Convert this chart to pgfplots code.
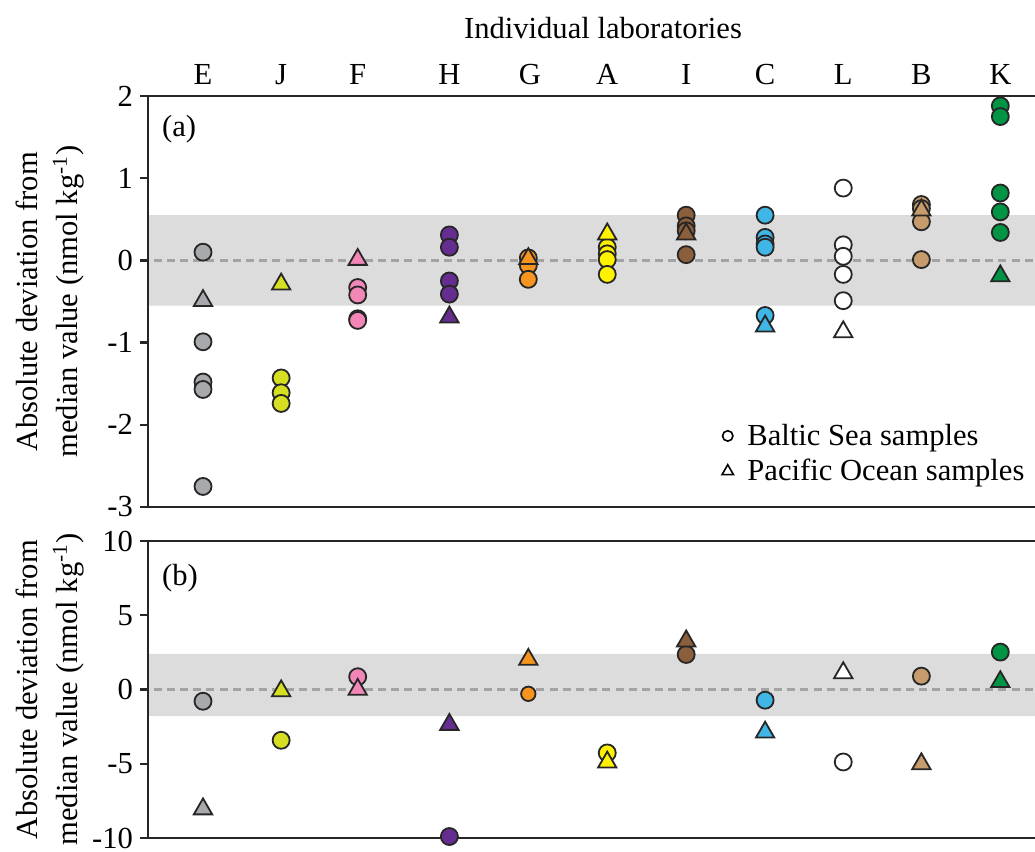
\documentclass[border=0pt]{standalone}
\usepackage{pgfplots}
\pgfplotsset{compat=1.18}
\usepackage{fontspec}
\setmainfont{Liberation Serif}
\definecolor{cE}{HTML}{A7A9AC}
\definecolor{cJ}{HTML}{D7DF23}
\definecolor{cF}{HTML}{F287B7}
\definecolor{cH}{HTML}{662D91}
\definecolor{cG}{HTML}{F7941D}
\definecolor{cA}{HTML}{FFF200}
\definecolor{cI}{HTML}{8B5E3C}
\definecolor{cC}{HTML}{3FB6E6}
\definecolor{cL}{HTML}{FFFFFF}
\definecolor{cB}{HTML}{C69C6D}
\definecolor{cK}{HTML}{009444}
\definecolor{bandgray}{HTML}{DCDCDD}
\definecolor{dashgray}{HTML}{A3A3A3}
\newcommand{\fs}{\fontsize{15.3}{20}\selectfont}
\pgfplotsset{
  cm/.style={only marks, mark=*, mark size=4.25pt, forget plot,
    mark options={fill=#1, draw=black!85, line width=0.9pt}},
  tm/.style={only marks, mark=triangle*, mark size=5.3pt, forget plot,
    mark options={fill=#1, draw=black!85, line width=0.9pt}},
  common/.style={
    scale only axis, width=444.5pt, xmin=-0.69, xmax=10.46,
    clip=false, axis line style={line width=1.2pt, black!85},
    tick style={line width=1.2pt, black!85},
    ytick align=outside, ytick pos=left, major tick length=4pt,
    ticklabel style={font=\fs},
    xtick={0,0.98,1.94,3.09,4.1,5.07,6.06,7.05,8.03,9.01,10},
    x tick style={draw=none},
    every axis y label/.style={at={(axis description cs:-0.1105,0.5)}, rotate=90, anchor=center, align=center, font=\fs},
    ylabel={Absolute deviation from\\median value (nmol kg\textsuperscript{-1})},
  },
}
\begin{document}
\begin{tikzpicture}
\useasboundingbox (0,-426pt) rectangle (517.5pt,0pt);
\node[font=\fs] at (301.5pt,-14pt) {Individual laboratories};
% ---------- panel (a)
\begin{axis}[common, at={(74pt,-253.5pt)}, anchor=south west, height=205.5pt,
  ymin=-3, ymax=2, ytick={-3,-2,-1,0,1,2}, yticklabels={-3,-2,-1,0,1,2},
  xticklabel pos=upper, xticklabels={E,J,F,H,G,A,I,C,L,B,K},
  xticklabel style={yshift=2pt},
  legend style={draw=none, fill=none, at={(axis description cs:0.643,0.218)}, anchor=north west, font=\fs, row sep=1.5pt, inner sep=1pt},
  legend cell align=left]
\addplot[fill=bandgray, draw=none, forget plot] coordinates {(-0.675,-0.55) (10.46,-0.55) (10.46,0.55) (-0.675,0.55)} \closedcycle;
\addplot[dashgray, line width=1.5pt, dash pattern=on 4pt off 2.6pt, forget plot] coordinates {(-0.62,0) (10.46,0)};
\addlegendimage{only marks, mark=o, mark size=2.6pt, black, line width=0.8pt}
\addlegendentry{\hspace{5pt}Baltic Sea samples}
\addlegendimage{only marks, mark=triangle, mark size=3.3pt, black, line width=0.8pt}
\addlegendentry{\hspace{5pt}Pacific Ocean samples}
% E
\addplot[cm=cE] coordinates {(0,0.10) (0,-0.99) (0,-1.48) (0,-1.57) (0,-2.75)};
\addplot[tm=cE] coordinates {(0,-0.49)};
% J
\addplot[cm=cJ] coordinates {(0.98,-1.43) (0.98,-1.61) (0.98,-1.74)};
\addplot[tm=cJ] coordinates {(0.98,-0.29)};
% F
\addplot[cm=cF] coordinates {(1.94,-0.33) (1.94,-0.42) (1.94,-0.71) (1.94,-0.73)};
\addplot[tm=cF] coordinates {(1.94,0.01)};
% H
\addplot[cm=cH] coordinates {(3.09,0.31) (3.09,0.16) (3.09,-0.25) (3.09,-0.41)};
\addplot[tm=cH] coordinates {(3.09,-0.69)};
% G
\addplot[cm=cG] coordinates {(4.08,0.03) (4.08,-0.06) (4.08,-0.23)};
\addplot[tm=cG] coordinates {(4.08,0.02)};
% A
\addplot[cm=cA] coordinates {(5.07,0.16) (5.07,0.08) (5.07,0.01) (5.07,-0.17)};
\addplot[tm=cA] coordinates {(5.07,0.32)};
% I
\addplot[cm=cI] coordinates {(6.06,0.55) (6.06,0.42) (6.06,0.36) (6.06,0.07)};
\addplot[tm=cI] coordinates {(6.06,0.32)};
% C
\addplot[cm=cC] coordinates {(7.05,0.55) (7.05,0.28) (7.05,0.20) (7.05,0.16) (7.05,-0.67)};
\addplot[tm=cC] coordinates {(7.05,-0.80)};
% L
\addplot[cm=cL] coordinates {(8.03,0.88) (8.03,0.19) (8.03,0.05) (8.03,-0.17) (8.03,-0.49)};
\addplot[tm=cL] coordinates {(8.03,-0.87)};
% B
\addplot[cm=cB] coordinates {(9.01,0.68) (9.01,0.63) (9.01,0.47) (9.01,0.01)};
\addplot[tm=cB] coordinates {(9.01,0.61)};
% K
\addplot[cm=cK] coordinates {(10,1.88) (10,1.75) (10,0.82) (10,0.59) (10,0.34)};
\addplot[tm=cK] coordinates {(10,-0.19)};
\node[font=\fs, anchor=west] at (axis description cs:0.008,0.92) {(a)};
\end{axis}
% ---------- panel (b)
\begin{axis}[common, at={(74pt,-419pt)}, anchor=south west, height=148.5pt,
  ymin=-10, ymax=10, ytick={-10,-5,0,5,10}, yticklabels={-10,-5,0,5,10},
  xticklabels={}]
\addplot[fill=bandgray, draw=none, forget plot] coordinates {(-0.675,-1.8) (10.46,-1.8) (10.46,2.4) (-0.675,2.4)} \closedcycle;
\addplot[dashgray, line width=1.5pt, dash pattern=on 4pt off 2.6pt, forget plot] coordinates {(-0.62,0) (10.46,0)};
\addplot[cm=cE] coordinates {(0,-0.79)};
\addplot[tm=cE] coordinates {(0,-8.05)};
\addplot[cm=cJ] coordinates {(0.98,-3.42)};
\addplot[tm=cJ] coordinates {(0.98,-0.1)};
\addplot[cm=cF] coordinates {(1.94,0.86)};
\addplot[tm=cF] coordinates {(1.94,0.0)};
\addplot[cm=cH] coordinates {(3.09,-9.9)};
\addplot[tm=cH] coordinates {(3.09,-2.36)};
\addplot[cm=cG, mark size=3.6pt] coordinates {(4.08,-0.29)};
\addplot[tm=cG] coordinates {(4.08,2.02)};
\addplot[cm=cA] coordinates {(5.07,-4.27)};
\addplot[tm=cA] coordinates {(5.07,-4.9)};
\addplot[cm=cI] coordinates {(6.06,2.36)};
\addplot[tm=cI] coordinates {(6.06,3.26)};
\addplot[cm=cC] coordinates {(7.05,-0.72)};
\addplot[tm=cC] coordinates {(7.05,-2.88)};
\addplot[cm=cL] coordinates {(8.03,-4.88)};
\addplot[tm=cL] coordinates {(8.03,1.12)};
\addplot[cm=cB] coordinates {(9.01,0.9)};
\addplot[tm=cB] coordinates {(9.01,-5.01)};
\addplot[cm=cK] coordinates {(10,2.52)};
\addplot[tm=cK] coordinates {(10,0.52)};
\node[font=\fs, anchor=west] at (axis description cs:0.008,0.875) {(b)};
\end{axis}
\end{tikzpicture}
\end{document}
